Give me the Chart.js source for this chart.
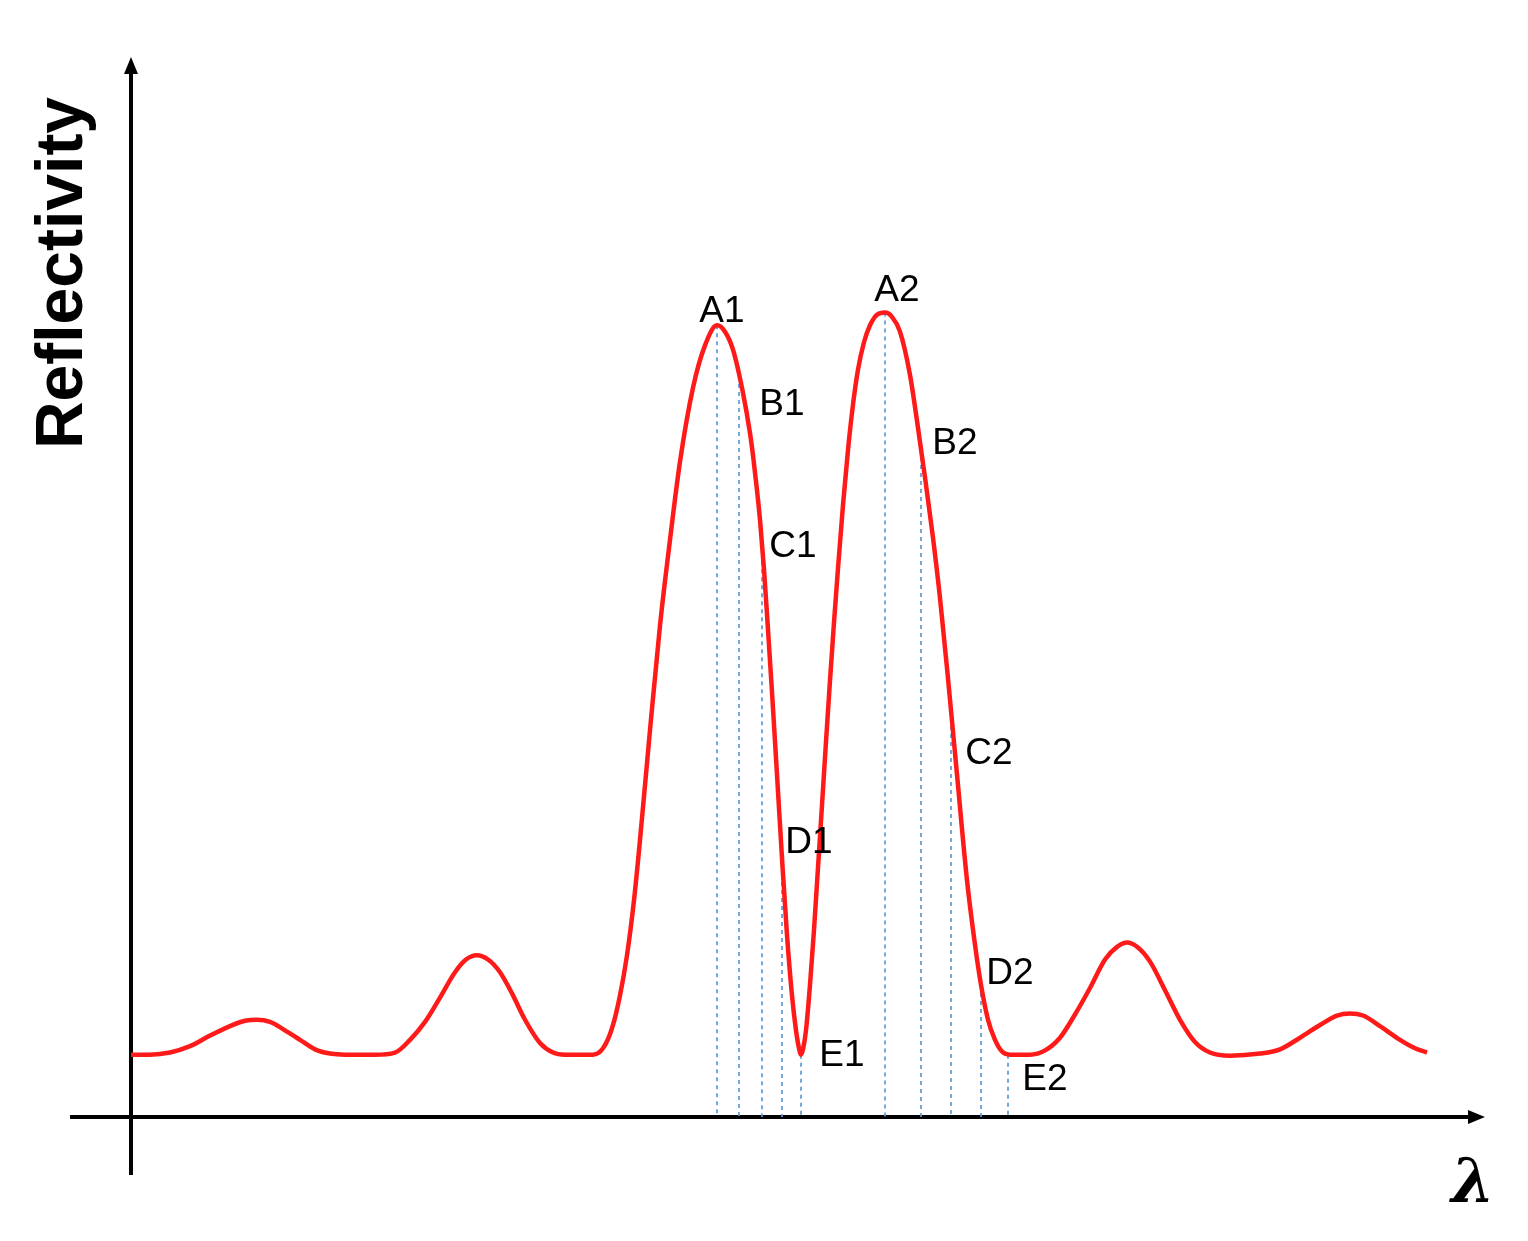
<!DOCTYPE html>
<html>
<head>
<meta charset="utf-8">
<script src="https://cdn.jsdelivr.net/npm/chart.js@4.4.1/dist/chart.umd.min.js"></script>
<style>
  html, body { margin: 0; padding: 0; background: #ffffff; }
  canvas { display: block; }
</style>
</head>
<body>
<canvas id="c" width="1528" height="1241"></canvas>
<script>
// ---- Data (wavelength in arbitrary units, reflectivity 0..1) ----
const wavelength = [0, 1.9, 3.9, 5.9, 7.9, 9.9, 11.4, 12.6, 13.9, 15.4, 16.9, 18.4, 19.9, 21.4, 24.4, 26.4, 27.9, 29.4, 30.9, 32.4, 33.5, 34.6, 35.7, 36.9, 38.1, 39.4, 40.9, 42.2, 43.4, 46.2, 47.2, 48.1, 48.9, 49.6, 50.3, 50.9, 51.9, 52.9, 53.9, 54.9, 56.2, 57.4, 58.6, 59.4, 60.2, 61.2, 61.9, 62.2, 62.6, 62.9, 63.3, 63.7, 64.1, 64.6, 65.1, 65.6, 66.1, 66.5, 66.8, 67.0, 67.2, 67.5, 67.9, 68.3, 68.7, 69.1, 69.5, 69.9, 70.3, 70.7, 71.2, 71.7, 72.2, 72.7, 73.3, 73.9, 74.6, 75.4, 76.1, 76.9, 77.9, 78.7, 79.4, 80.2, 80.9, 81.7, 82.6, 83.6, 84.4, 85.0, 85.7, 86.4, 87.1, 87.9, 89.9, 91.4, 92.9, 94.4, 95.9, 97.4, 98.6, 99.6, 100.6, 101.9, 103.4, 104.9, 106.4, 107.9, 109.9, 112.9, 114.9, 116.9, 118.9, 120.6, 121.9, 123.2, 124.9, 126.9, 128.4, 129.6];
const reflectivity = [0.059, 0.059, 0.061, 0.067, 0.077, 0.086, 0.091, 0.092, 0.090, 0.082, 0.073, 0.064, 0.060, 0.059, 0.059, 0.061, 0.073, 0.090, 0.113, 0.137, 0.149, 0.153, 0.149, 0.137, 0.117, 0.092, 0.070, 0.061, 0.059, 0.059, 0.065, 0.084, 0.115, 0.153, 0.205, 0.262, 0.366, 0.465, 0.546, 0.620, 0.690, 0.730, 0.749, 0.743, 0.726, 0.685, 0.647, 0.626, 0.593, 0.565, 0.518, 0.461, 0.402, 0.324, 0.245, 0.172, 0.115, 0.082, 0.065, 0.059, 0.064, 0.082, 0.125, 0.177, 0.236, 0.295, 0.355, 0.413, 0.468, 0.519, 0.579, 0.631, 0.674, 0.707, 0.733, 0.749, 0.759, 0.761, 0.757, 0.743, 0.702, 0.652, 0.605, 0.548, 0.491, 0.415, 0.324, 0.224, 0.163, 0.125, 0.092, 0.073, 0.062, 0.059, 0.059, 0.063, 0.075, 0.097, 0.122, 0.149, 0.161, 0.165, 0.161, 0.147, 0.120, 0.092, 0.071, 0.061, 0.058, 0.060, 0.064, 0.075, 0.087, 0.096, 0.098, 0.096, 0.086, 0.073, 0.065, 0.061];

const markerNames = ['A1', 'B1', 'C1', 'D1', 'E1', 'A2', 'B2', 'C2', 'D2', 'E2'];
const markerWavelength = [58.6, 60.8, 63.1, 65.1, 67.0, 75.4, 79.0, 82.0, 85.0, 87.7];
const markerReflectivity = [0.749, 0.701, 0.541, 0.245, 0.059, 0.761, 0.632, 0.385, 0.125, 0.059];

const yTitle = 'Reflectivity';
const xTitle = 'λ';

// ---- Chart-building ----
const curveData = wavelength.map((x, i) => ({ x: x, y: reflectivity[i] }));
const markerData = [];
markerWavelength.forEach((x, i) => {
  markerData.push({ x: x, y: markerReflectivity[i] });
  markerData.push({ x: x, y: 0 });
  markerData.push({ x: x, y: null });
});

// label offsets (px) from marker top to label centre
const labelOffsets = [[5, -17], [43, 26], [31, -1], [27, -18], [41, -2], [12, -25], [34, -8], [38, 41], [29, -14], [37, 22]];

const drawingPlugin = {
  id: 'drawing',
  beforeDatasetsDraw(chart) {
    const ctx = chart.ctx;
    const xs = chart.scales.x, ys = chart.scales.y;
    const x0 = xs.getPixelForValue(0);
    const y0 = ys.getPixelForValue(0);
    const area = chart.chartArea;
    ctx.save();
    ctx.strokeStyle = '#000';
    ctx.fillStyle = '#000';
    ctx.lineWidth = 4;
    // y axis
    ctx.beginPath();
    ctx.moveTo(x0, y0 + 58);
    ctx.lineTo(x0, area.top + 10);
    ctx.stroke();
    ctx.beginPath();
    ctx.moveTo(x0, area.top - 3);
    ctx.lineTo(x0 - 7, area.top + 14);
    ctx.lineTo(x0 + 7, area.top + 14);
    ctx.closePath();
    ctx.fill();
    // x axis
    ctx.beginPath();
    ctx.moveTo(x0 - 61, y0);
    ctx.lineTo(area.right - 8, y0);
    ctx.stroke();
    ctx.beginPath();
    ctx.moveTo(area.right + 4, y0);
    ctx.lineTo(area.right - 13, y0 - 7);
    ctx.lineTo(area.right - 13, y0 + 7);
    ctx.closePath();
    ctx.fill();
    ctx.restore();
  },
  afterDatasetsDraw(chart) {
    const ctx = chart.ctx;
    const xs = chart.scales.x, ys = chart.scales.y;
    const area = chart.chartArea;
    ctx.save();
    // point labels
    const fs = 37;
    ctx.font = fs + 'px "Liberation Sans", Arial, sans-serif';
    ctx.fillStyle = '#000';
    ctx.textAlign = 'center';
    ctx.textBaseline = 'alphabetic';
    markerNames.forEach((name, i) => {
      const px = xs.getPixelForValue(markerWavelength[i]) + labelOffsets[i][0];
      const py = ys.getPixelForValue(markerReflectivity[i]) + labelOffsets[i][1];
      ctx.fillText(name, px, py + fs * 0.716 / 2);
    });
    // y title
    ctx.save();
    ctx.translate(area.left - 49, area.top + 213);
    ctx.rotate(-Math.PI / 2);
    ctx.font = 'bold 66px "Liberation Sans", Arial, sans-serif';
    ctx.textAlign = 'center';
    ctx.textBaseline = 'alphabetic';
    ctx.fillText(yTitle, 0, 0);
    ctx.restore();
    // x title
    ctx.font = 'bold italic 62px "DejaVu Serif", serif';
    ctx.textAlign = 'center';
    ctx.textBaseline = 'alphabetic';
    ctx.fillText(xTitle, area.right - 8, ys.getPixelForValue(0) + 85);
    ctx.restore();
  }
};

new Chart(document.getElementById('c'), {
  type: 'line',
  data: {
    datasets: [
      {
        data: curveData,
        borderColor: '#ff1a1a',
        borderWidth: 4.5,
        pointRadius: 0,
        cubicInterpolationMode: 'monotone',
        fill: false,
        clip: false
      },
      {
        data: markerData,
        borderColor: 'rgba(91,155,213,0.85)',
        borderWidth: 2,
        borderDash: [4, 4],
        pointRadius: 0,
        spanGaps: false,
        tension: 0,
        fill: false,
        clip: false
      }
    ]
  },
  options: {
    responsive: false,
    animation: false,
    devicePixelRatio: 1,
    layout: { padding: { left: 131, right: 47, top: 60, bottom: 124 } },
    plugins: { legend: { display: false }, tooltip: { enabled: false } },
    scales: {
      x: { type: 'linear', min: 0, max: 135, display: false },
      y: { type: 'linear', min: 0, max: 1, display: false }
    }
  },
  plugins: [drawingPlugin]
});
</script>
</body>
</html>
